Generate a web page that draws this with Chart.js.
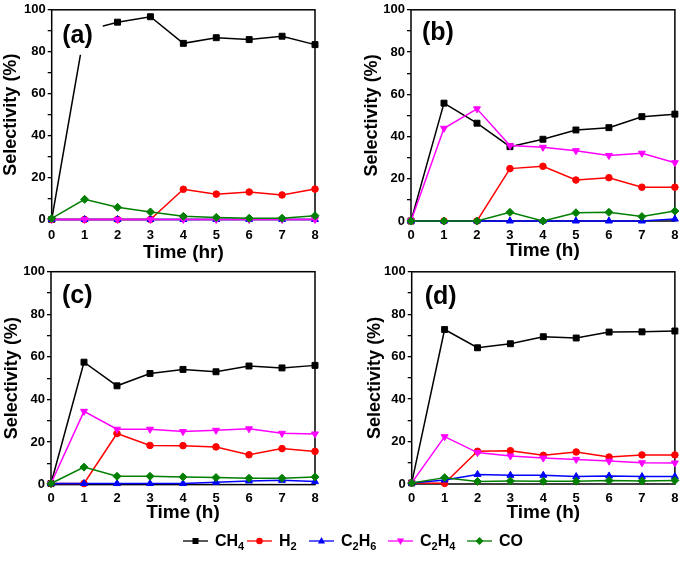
<!DOCTYPE html>
<html>
<head>
<meta charset="utf-8">
<script src="https://cdn.jsdelivr.net/npm/chart.js@4.4.1/dist/chart.umd.min.js"></script>
<style>
  html, body { margin:0; padding:0; background:#fff; }
  #wrap { position:relative; width:685px; height:566px; overflow:hidden; font-family:"Liberation Sans", Arial, sans-serif; }
  canvas { position:absolute; left:0; top:0; }
  .lg { position:absolute; top:532px; height:18px; display:flex; align-items:center; font-weight:bold; font-size:16px; color:#000; white-space:nowrap; }
  .lg svg { margin-right:7px; }
  .lg sub { font-size:11px; vertical-align:-4px; line-height:0; }
</style>
</head>
<body>
<div id="wrap">
  <canvas id="ca" width="685" height="566"></canvas>
  <canvas id="cb" width="685" height="566"></canvas>
  <canvas id="cc" width="685" height="566"></canvas>
  <canvas id="cd" width="685" height="566"></canvas>
  <div id="legend"></div>
</div>
<script>
// ---- data ----
const hours = ['0','1','2','3','4','5','6','7','8'];
const seriesNames = ['CH4','H2','C2H6','C2H4','CO'];
const yTicks = [0,20,40,60,80,100];

// panel (a)
const ch4A  = [0, 90, 94.1, 96.7, 84.0, 86.7, 85.8, 87.4, 83.4];
const h2A   = [0, 0, 0, 0, 14.4, 12.1, 13.1, 11.7, 14.5];
const c2h6A = [0, 0, 0, 0, 0, 0, 0, 0, 0];
const c2h4A = [0, 0, 0, 0, 0, 0, 0, 0, 0];
const coA   = [0.5, 9.6, 5.8, 3.6, 1.5, 1.0, 0.6, 0.6, 1.8];

// panel (b)
const ch4B  = [0, 55.8, 46.3, 35.2, 38.7, 43.1, 44.2, 49.4, 50.6];
const h2B   = [0, 0, 0, 24.8, 25.9, 19.4, 20.5, 16.0, 16.0];
const c2h6B = [0, 0, 0, 0, 0, 0, 0, 0, 0.9];
const c2h4B = [0, 43.9, 53.1, 35.7, 34.9, 33.3, 31.0, 32.1, 27.6];
const coB   = [0, 0, 0, 4.1, 0, 3.9, 4.1, 2.1, 4.7];

// panel (c)
const ch4C  = [0.5, 57.5, 46.4, 52.2, 54.1, 53.0, 55.7, 54.8, 56.0];
const h2C   = [0.5, 0.5, 24.0, 18.4, 18.3, 17.7, 14.0, 16.9, 15.6];
const c2h6C = [0.5, 0.5, 0.5, 0.5, 0.5, 1.1, 1.7, 2.0, 1.4];
const c2h4C = [0.5, 34.4, 26.0, 26.0, 24.9, 25.5, 26.2, 24.1, 23.8];
const coC   = [0.5, 8.2, 3.9, 3.9, 3.6, 3.3, 3.0, 3.0, 3.6];

// panel (d)
const ch4D  = [0.5, 72.8, 64.2, 66.1, 69.4, 68.8, 71.6, 71.7, 72.1];
const h2D   = [0.5, 0.3, 15.4, 15.7, 13.5, 15.1, 12.7, 13.7, 13.7];
const c2h6D = [0.5, 1.9, 4.5, 4.1, 4.1, 3.5, 3.8, 3.5, 3.5];
const c2h4D = [0.5, 22.3, 14.8, 13.2, 12.2, 11.6, 10.8, 10.0, 9.9];
const coD   = [0.5, 3.0, 1.2, 1.4, 1.3, 1.3, 1.6, 1.4, 1.7];

// ---- styling ----
const FONT = '"Liberation Sans", Arial, sans-serif';
const styles = [
  { color:'#000000', pointStyle:'rect',     radius:4.2, rotation:0 },
  { color:'#ff0000', pointStyle:'circle',   radius:3.3, rotation:0 },
  { color:'#0000ff', pointStyle:'triangle', radius:4,   rotation:0 },
  { color:'#ff00ff', pointStyle:'triangle', radius:4,   rotation:180 },
  { color:'#007f00', pointStyle:'rectRot',  radius:4,   rotation:0 }
];

const panelDecor = {
  id: 'panelDecor',
  beforeDatasetsDraw(chart, args, opts) {
    const { ctx, chartArea: a } = chart;
    ctx.save();
    ctx.strokeStyle = '#000';
    ctx.lineWidth = 1.5;
    ctx.strokeRect(a.left, a.top, a.right - a.left, a.bottom - a.top);
    ctx.restore();
  },
  afterDatasetsDraw(chart, args, opts) {
    const { ctx, chartArea: a } = chart;
    ctx.save();
    ctx.font = 'bold 25px ' + FONT;
    const w = ctx.measureText(opts.text).width;
    const x = a.left + opts.dx, y = a.top + opts.dy;
    if (opts.mask) {
      ctx.fillStyle = '#fff';
      ctx.fillRect(x - 2, y - 20, w + 12, 39);
    }
    ctx.fillStyle = '#000';
    ctx.textBaseline = 'middle';
    ctx.textAlign = 'left';
    ctx.fillText(opts.text, x, y);
    ctx.restore();
  }
};

function makePanel(id, label, xTitle, series, lay) {
  const datasets = series.map((vals, i) => ({
    label: seriesNames[i],
    data: vals,
    order: series.length - i,
    borderColor: styles[i].color,
    backgroundColor: styles[i].color,
    borderWidth: 1.5,
    pointStyle: styles[i].pointStyle,
    pointRotation: styles[i].rotation,
    pointRadius: styles[i].radius,
    pointBorderWidth: 1,
    pointBorderColor: styles[i].color,
    pointBackgroundColor: styles[i].color,
    tension: 0,
    clip: false
  }));
  return new Chart(document.getElementById(id), {
    type: 'line',
    data: { labels: hours, datasets },
    options: {
      responsive: false,
      animation: false,
      devicePixelRatio: 1,
      layout: { padding: {
        left: Math.max(0, lay.L - lay.yw),
        right: 685 - lay.R,
        top: lay.T,
        bottom: 566 - lay.B - lay.xh
      } },
      plugins: {
        legend: { display: false },
        tooltip: { enabled: false },
        panelDecor: { text: label, dx: lay.ldx, dy: lay.ldy, mask: lay.mask }
      },
      scales: {
        x: {
          type: 'category',
          offset: false,
          grid: { display: false, drawTicks: false },
          border: { display: false },
          ticks: { color:'#000', font: { family: FONT, weight:'bold', size: 13 }, padding: lay.xpad, maxRotation: 0, autoSkip: false },
          title: { display: true, text: xTitle, color:'#000', font: { family: FONT, weight:'bold', size: 19 }, padding: { top: 0, bottom: 0 } },
          afterFit(s) { s.height = lay.xh; }
        },
        y: {
          min: 0, max: 100,
          grid: { drawOnChartArea: false, drawTicks: true, tickLength: 4, color:'#000', lineWidth: 1.3 },
          border: { display: false },
          afterBuildTicks(s) {
            const t = [];
            for (let v = 0; v <= 100; v += 10) t.push({ value: v });
            s.ticks = t;
          },
          ticks: {
            autoSkip: false,
            color:'#000',
            font: { family: FONT, weight:'bold', size: 13 },
            padding: 2,
            callback: (v) => (yTicks.includes(v) ? String(v) : '')
          },
          title: { display: true, text: 'Selectivity (%)', color:'#000', font: { family: FONT, weight:'bold', size: 18 }, padding: { top: 0, bottom: 0 } },
          afterFit(s) { s.width = lay.yw; }
        }
      }
    },
    plugins: [panelDecor]
  });
}

makePanel('ca', '(a)', 'Time (hr)', [ch4A, h2A, c2h6A, c2h4A, coA],
  { L: 51.7, R: 315, T: 9.5, B: 219.5, yw: 51.7, xh: 44.4, xpad: 8, ldx: 10.5, ldy: 26, mask: true });
makePanel('cb', '(b)', 'Time (h)', [ch4B, h2B, c2h6B, c2h4B, coB],
  { L: 411, R: 677, T: 9.5, B: 221, yw: 49.5, xh: 41.4, xpad: 6.5, ldx: 11, ldy: 23, mask: false });
makePanel('cc', '(c)', 'Time (h)', [ch4C, h2C, c2h6C, c2h4C, coC],
  { L: 51, R: 315, T: 271.7, B: 484.6, yw: 49.8, xh: 40, xpad: 6.5, ldx: 11, ldy: 24, mask: false });
makePanel('cd', '(d)', 'Time (h)', [ch4D, h2D, c2h6D, c2h4D, coD],
  { L: 411.7, R: 677, T: 271.8, B: 484, yw: 47.2, xh: 40.5, xpad: 6.5, ldx: 13, ldy: 25, mask: false });

// ---- legend (HTML, real text) ----
const legendTexts = ['CH<sub>4</sub>', 'H<sub>2</sub>', 'C<sub>2</sub>H<sub>6</sub>', 'C<sub>2</sub>H<sub>4</sub>', 'CO'];
const legendLeft = [183, 247, 309, 388, 467];
function markerSvg(i) {
  const c = styles[i].color, cx = 12.5, cy = 9;
  let m = '';
  if (i === 0) m = `<rect x="${cx-3}" y="${cy-3}" width="6" height="6" fill="${c}"/>`;
  if (i === 1) m = `<circle cx="${cx}" cy="${cy}" r="3.3" fill="${c}"/>`;
  if (i === 2) m = `<polygon points="${cx},${cy-4} ${cx+3.6},${cy+2.5} ${cx-3.6},${cy+2.5}" fill="${c}"/>`;
  if (i === 3) m = `<polygon points="${cx},${cy+4} ${cx+3.6},${cy-2.5} ${cx-3.6},${cy-2.5}" fill="${c}"/>`;
  if (i === 4) m = `<polygon points="${cx},${cy-4} ${cx+4},${cy} ${cx},${cy+4} ${cx-4},${cy}" fill="${c}"/>`;
  return `<svg width="25" height="18" viewBox="0 0 25 18"><line x1="0" y1="${cy}" x2="25" y2="${cy}" stroke="${c}" stroke-width="1.3"/>${m}</svg>`;
}
const lg = document.getElementById('legend');
legendTexts.forEach((t, i) => {
  const d = document.createElement('div');
  d.className = 'lg';
  d.style.left = legendLeft[i] + 'px';
  d.innerHTML = markerSvg(i) + '<span>' + t + '</span>';
  lg.appendChild(d);
});
</script>
</body>
</html>
